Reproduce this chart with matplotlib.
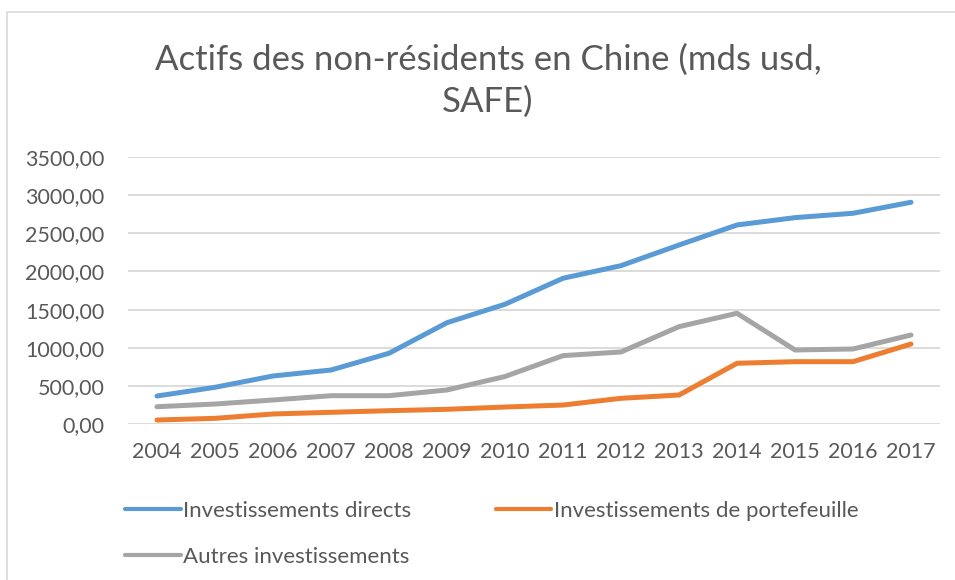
import numpy as np
import matplotlib
matplotlib.use("Agg")
import matplotlib.pyplot as plt
from matplotlib.ticker import FuncFormatter, MultipleLocator
from matplotlib.patches import Rectangle

plt.rcParams['font.family'] = ['Lato', 'DejaVu Sans']

years = list(range(2004, 2018))
directs = [370, 484, 632, 710, 929, 1329, 1570, 1910, 2075, 2345, 2607, 2703, 2760, 2904]
portefeuille = [56, 78, 135, 157, 178, 196, 226, 252, 340, 383, 798, 819, 819, 1050]
autres = [230, 265, 318, 374, 374, 449, 625, 898, 946, 1277, 1452, 972, 985, 1168]

labels = ['Investissements directs', 'Investissements de portefeuille', 'Autres investissements']
colors = ['#5B9BD5', '#ED7D31', '#A5A5A5']
text_col = '#595959'
grid_col = '#D9D9D9'

W, H = 955, 580
fig = plt.figure(figsize=(W / 100, H / 100), dpi=100)

# light frame around the chart area
fig.patches.append(Rectangle((7 / W, -0.05), 1.2, 1 - 12 / H + 0.05, transform=fig.transFigure,
                             fill=False, edgecolor=grid_col, linewidth=1.2))

ax = fig.add_axes([128 / W, 1 - 424.3 / H, (940 - 128) / W, 267.6 / H])

x = np.arange(len(years))
lines = []
for vals, lab, c in zip([directs, portefeuille, autres], labels, colors):
    ln, = ax.plot(x, vals, color=c, linewidth=3.6, solid_capstyle='round', label=lab, zorder=3)
    lines.append(ln)

ax.set_xlim(-0.5, len(years) - 0.5)
ax.set_ylim(0, 3500)
ax.yaxis.set_major_locator(MultipleLocator(500))
ax.yaxis.set_major_formatter(FuncFormatter(lambda v, p: f"{v:.2f}".replace('.', ',')))
ax.set_xticks(x)
ax.set_xticklabels([str(y) for y in years])
ax.grid(axis='y', color=grid_col, linewidth=1.3, zorder=0)
for s in ax.spines.values():
    s.set_visible(False)
ax.tick_params(axis='both', length=0, labelsize=15.5, colors=text_col)
ax.tick_params(axis='y', pad=17)
ax.tick_params(axis='x', pad=13)

fig.text(0.511, 1 - 60 / H, 'Actifs des non-résidents en Chine (mds usd,', ha='center', va='center',
         fontsize=25, color=text_col)
fig.text(0.511, 1 - 102 / H, 'SAFE)', ha='center', va='center', fontsize=25, color=text_col)

# legend laid out row by row: reorder so column filling matches
order = [0, 2, 1]
leg = fig.legend([lines[i] for i in order], [labels[i] for i in order], ncol=2,
                 loc='upper left', bbox_to_anchor=(105 / W, 1 - 481 / H), frameon=False,
                 fontsize=16, handlelength=2.5, handletextpad=0.12, columnspacing=3.8,
                 labelspacing=1.18, labelcolor=text_col)
for h in leg.legend_handles:
    h.set_linewidth(3.0)

fig.savefig('out.png', dpi=100)
